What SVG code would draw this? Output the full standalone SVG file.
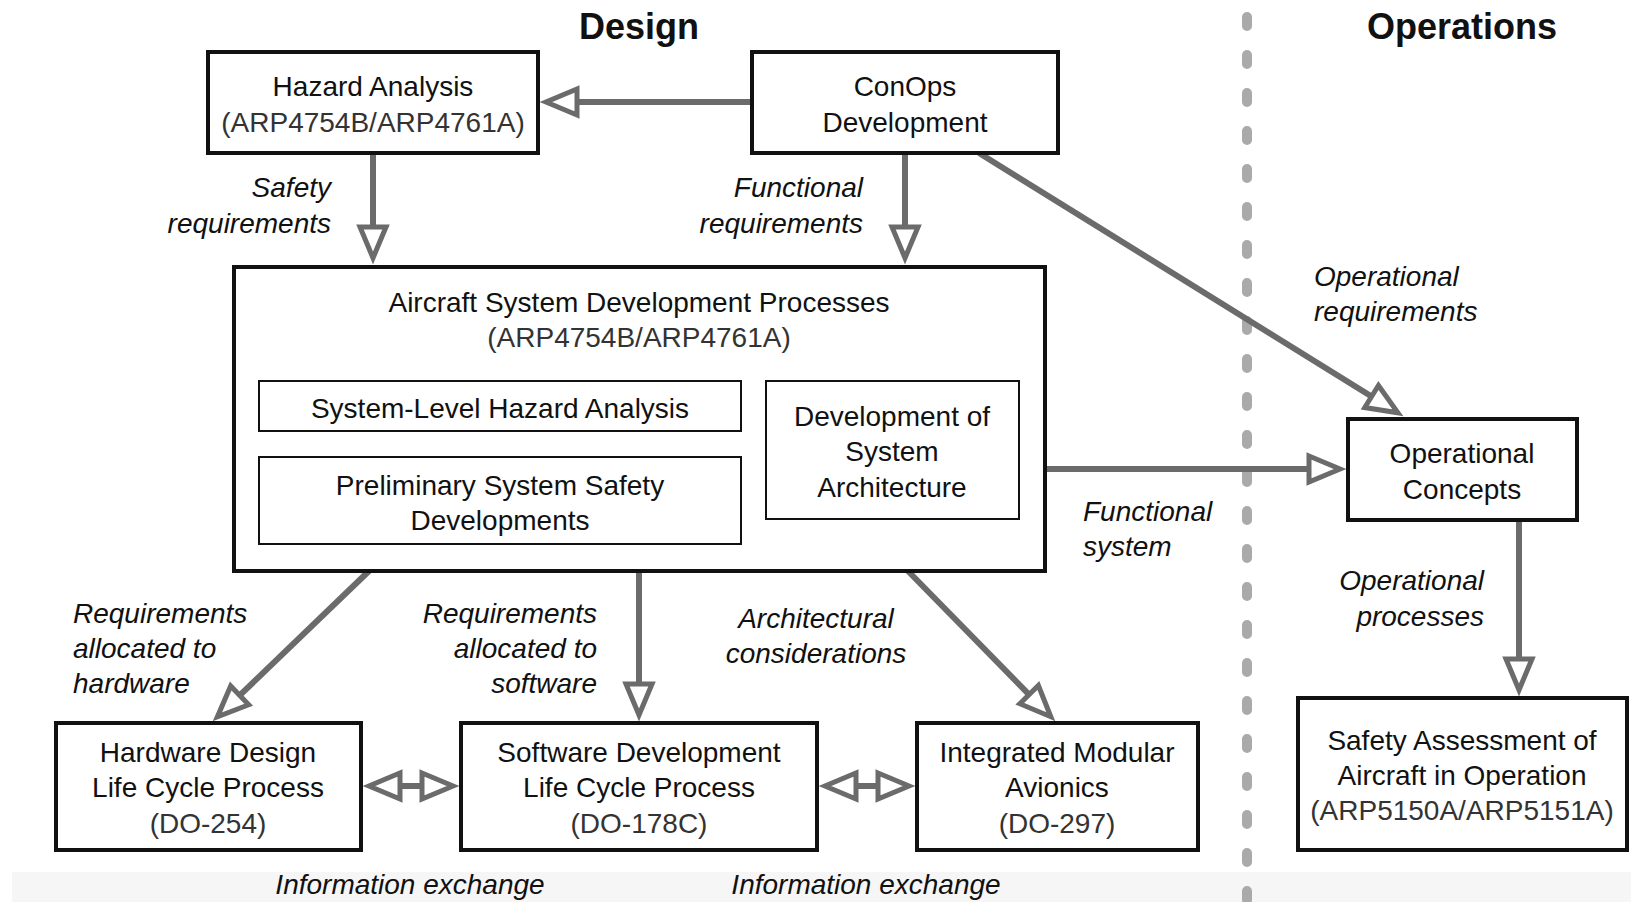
<svg xmlns="http://www.w3.org/2000/svg" width="1631" height="902" viewBox="0 0 1631 902">
<style>
  text { font-family: "Liberation Sans", Arial, sans-serif; fill: #111; }
  .t { font-size: 28px; text-anchor: middle; }
  .sub { font-size: 28px; text-anchor: middle; fill: #333; }
  .lab { font-size: 28px; font-style: italic; }
  .r { text-anchor: end; }
  .m { text-anchor: middle; }
  .title { font-size: 36px; font-weight: bold; text-anchor: middle; }
  .box { fill: #fff; stroke: #111; stroke-width: 4; }
  .inner { fill: #fff; stroke: #111; stroke-width: 2; }
  .conn { fill: none; stroke: #6b6b6b; stroke-width: 6; }
  .a { marker-end: url(#tri); }
  .d { marker-start: url(#tri2); marker-end: url(#tri); }
</style>
<defs>
  <marker id="tri" markerUnits="userSpaceOnUse" viewBox="-6 -20 50 40" markerWidth="50" markerHeight="40" refX="0" refY="0" orient="auto">
    <path d="M0,-13 L31,0 L0,13 Z" fill="#fff" stroke="#6b6b6b" stroke-width="5"/>
  </marker>
  <marker id="tri2" markerUnits="userSpaceOnUse" viewBox="-6 -20 50 40" markerWidth="50" markerHeight="40" refX="0" refY="0" orient="auto-start-reverse">
    <path d="M0,-13 L31,0 L0,13 Z" fill="#fff" stroke="#6b6b6b" stroke-width="5"/>
  </marker>
</defs>
<rect x="0" y="0" width="1631" height="902" fill="#fff"/>
<rect x="12" y="872" width="1619" height="30" fill="#f6f6f6"/>

<!-- divider -->
<line x1="1247" y1="17" x2="1247" y2="902" stroke="#aaaaaa" stroke-width="10" stroke-linecap="round" stroke-dasharray="9 29"/>

<text class="title" x="639" y="39">Design</text>
<text class="title" x="1462" y="39">Operations</text>

<g id="connectors">
  <line class="conn a" x1="752" y1="102" x2="577" y2="102"/>
  <line class="conn a" x1="373" y1="153" x2="373" y2="227"/>
  <line class="conn a" x1="905" y1="153" x2="905" y2="227"/>
  <line class="conn a" x1="979" y1="153" x2="1371.6" y2="396.5"/>
  <line class="conn a" x1="1045" y1="469" x2="1309" y2="469"/>
  <line class="conn a" x1="1519" y1="520" x2="1519" y2="659"/>
  <line class="conn a" x1="369" y1="571" x2="239.7" y2="695.4"/>
  <line class="conn a" x1="639" y1="571" x2="639" y2="684"/>
  <line class="conn a" x1="908" y1="571" x2="1029.1" y2="694.6"/>
  <line class="conn d" x1="400" y1="786" x2="422" y2="786"/>
  <line class="conn d" x1="856" y1="786" x2="878" y2="786"/>
</g>

<g id="labels">
  <text class="lab r" x="331" y="197">Safety</text>
  <text class="lab r" x="331" y="233">requirements</text>
  <text class="lab r" x="863" y="197">Functional</text>
  <text class="lab r" x="863" y="233">requirements</text>
  <text class="lab" x="1314" y="286">Operational</text>
  <text class="lab" x="1314" y="321">requirements</text>
  <text class="lab" x="1083" y="521">Functional</text>
  <text class="lab" x="1083" y="556">system</text>
  <text class="lab r" x="1484" y="590">Operational</text>
  <text class="lab r" x="1484" y="626">processes</text>
  <text class="lab" x="73" y="623">Requirements</text>
  <text class="lab" x="73" y="658">allocated to</text>
  <text class="lab" x="73" y="693">hardware</text>
  <text class="lab r" x="597" y="623">Requirements</text>
  <text class="lab r" x="597" y="658">allocated to</text>
  <text class="lab r" x="597" y="693">software</text>
  <text class="lab m" x="816" y="628">Architectural</text>
  <text class="lab m" x="816" y="663">considerations</text>
  <text class="lab m" x="410" y="894">Information exchange</text>
  <text class="lab m" x="866" y="894">Information exchange</text>
</g>

<g id="hazard">
  <rect class="box" x="208" y="52" width="330" height="101"/>
  <text class="t" x="373" y="96">Hazard Analysis</text>
  <text class="sub" x="373" y="132">(ARP4754B/ARP4761A)</text>
</g>
<g id="conops">
  <rect class="box" x="752" y="52" width="306" height="101"/>
  <text class="t" x="905" y="96">ConOps</text>
  <text class="t" x="905" y="132">Development</text>
</g>
<g id="aircraft">
  <rect class="box" x="234" y="267" width="811" height="304"/>
  <text class="t" x="639" y="312">Aircraft System Development Processes</text>
  <text class="sub" x="639" y="347">(ARP4754B/ARP4761A)</text>
</g>
<g id="slha">
  <rect class="inner" x="259" y="381" width="482" height="50"/>
  <text class="t" x="500" y="418">System-Level Hazard Analysis</text>
</g>
<g id="pssd">
  <rect class="inner" x="259" y="457" width="482" height="87"/>
  <text class="t" x="500" y="495">Preliminary System Safety</text>
  <text class="t" x="500" y="530">Developments</text>
</g>
<g id="dsa">
  <rect class="inner" x="766" y="381" width="253" height="138"/>
  <text class="t" x="892" y="426">Development of</text>
  <text class="t" x="892" y="461">System</text>
  <text class="t" x="892" y="497">Architecture</text>
</g>
<g id="opconcepts">
  <rect class="box" x="1348" y="419" width="229" height="101"/>
  <text class="t" x="1462" y="463">Operational</text>
  <text class="t" x="1462" y="499">Concepts</text>
</g>
<g id="safetyassess">
  <rect class="box" x="1298" y="698" width="329" height="152"/>
  <text class="t" x="1462" y="750">Safety Assessment of</text>
  <text class="t" x="1462" y="785">Aircraft in Operation</text>
  <text class="sub" x="1462" y="820">(ARP5150A/ARP5151A)</text>
</g>
<g id="hardware">
  <rect class="box" x="56" y="723" width="305" height="127"/>
  <text class="t" x="208" y="762">Hardware Design</text>
  <text class="t" x="208" y="797">Life Cycle Process</text>
  <text class="sub" x="208" y="833">(DO-254)</text>
</g>
<g id="software">
  <rect class="box" x="461" y="723" width="356" height="127"/>
  <text class="t" x="639" y="762">Software Development</text>
  <text class="t" x="639" y="797">Life Cycle Process</text>
  <text class="sub" x="639" y="833">(DO-178C)</text>
</g>
<g id="ima">
  <rect class="box" x="917" y="723" width="281" height="127"/>
  <text class="t" x="1057" y="762">Integrated Modular</text>
  <text class="t" x="1057" y="797">Avionics</text>
  <text class="sub" x="1057" y="833">(DO-297)</text>
</g>
</svg>
